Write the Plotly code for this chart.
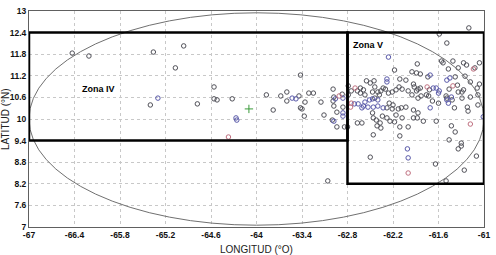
import plotly.graph_objects as go

# ---- data (longitude °O as negative, latitude °N) ----
gray_lon = [-66.43, -66.21, -65.36, -65.40, -64.96, -65.07, -64.78, -64.56, -64.56, -64.52,
            -64.32, -63.87, -63.78, -63.68, -63.60, -63.60, -63.44, -63.42, -63.42, -63.40,
            -63.36, -63.31, -63.25, -63.37, -63.15, -63.11, -62.99, -62.98, -62.87, -62.99,
            -62.98, -63.00, -62.94, -62.84, -62.79, -63.06, -61.20, -61.59, -61.49, -61.88,
            -61.56, -61.54, -61.41, -61.27, -61.23, -61.06, -62.18, -61.95, -61.89, -61.84,
            -61.74, -61.47, -61.12, -62.50, -62.44, -62.11, -62.03, -61.25, -61.06, -62.75,
            -62.67, -62.63, -62.59, -62.47, -62.38, -62.36, -62.30, -62.26, -62.16, -62.12,
            -62.08, -62.00, -61.92, -61.89, -61.87, -61.72, -61.46, -61.35, -61.34, -61.29,
            -61.18, -61.49, -61.42, -61.08, -61.60, -61.39, -61.22, -61.93, -61.87, -62.03,
            -62.16, -62.08, -62.28, -62.24, -62.42, -62.37, -62.47, -62.86, -62.94, -62.79,
            -62.63, -62.57, -62.55, -62.45, -61.93, -61.95, -62.21, -62.40, -62.33, -62.44,
            -62.25, -62.20, -62.21, -62.13, -62.09, -62.28, -62.46, -62.34, -61.93, -62.67,
            -62.61, -62.18, -62.11, -62.00, -62.80, -62.41, -62.36, -61.87, -61.83, -61.68,
            -61.29, -61.21, -61.08, -61.88, -61.80, -61.63, -61.43, -61.38, -61.46, -61.30,
            -61.30, -61.34, -61.10, -61.64, -61.26, -61.50, -62.46, -62.11, -62.50, -61.84,
            -61.76, -61.73, -61.50, -61.27, -61.09, -61.34, -61.38, -61.18]
gray_lat = [11.83, 11.75, 11.86, 10.39, 12.03, 11.42, 10.42, 10.89, 10.56, 10.53,
            10.56, 10.67, 10.25, 10.64, 10.75, 10.50, 10.64, 11.22, 10.31, 10.28,
            10.47, 10.72, 10.72, 10.08, 10.47, 10.11, 10.83, 10.61, 10.69, 10.50,
            10.36, 9.97, 9.78, 9.78, 10.92, 8.28, 12.53, 12.36, 12.11, 11.53,
            11.61, 11.56, 11.61, 11.56, 11.50, 11.56, 11.36, 11.31, 11.28, 11.25,
            11.17, 11.39, 11.42, 11.00, 10.89, 11.11, 11.08, 11.19, 10.97, 10.78,
            10.78, 10.86, 10.81, 10.75, 10.67, 10.78, 10.83, 10.72, 10.81, 10.89,
            10.83, 10.78, 10.89, 10.78, 10.83, 10.81, 10.83, 10.94, 10.75, 10.75,
            10.61, 10.58, 10.53, 10.67, 10.44, 10.31, 10.33, 10.25, 10.17, 10.33,
            10.11, 10.03, 10.03, 9.94, 9.97, 9.89, 10.17, 10.33, 10.19, 10.67,
            10.72, 10.67, 11.06, 11.06, 10.97, 10.67, 10.75, 10.75, 10.86, 10.58,
            10.44, 10.39, 10.28, 10.28, 10.31, 10.31, 10.03, 10.08, 10.03, 9.89,
            9.89, 9.92, 9.78, 9.78, 9.78, 9.81, 9.75, 10.58, 10.64, 10.50,
            10.58, 10.22, 10.39, 10.03, 9.94, 9.94, 9.81, 9.64, 9.42, 9.33,
            9.25, 9.17, 8.97, 8.75, 8.58, 8.28, 9.56, 9.53, 8.94, 10.86,
            10.67, 10.64, 10.64, 10.81, 10.86, 11.42, 11.17, 11.03]

blue_lon = [-65.30, -64.27, -64.26, -63.53, -63.48, -62.96, -62.86, -62.86, -62.86, -62.98,
            -62.26, -61.71, -62.28, -62.28, -61.49, -61.45, -61.63, -61.59, -61.01, -61.71,
            -62.59, -62.61, -62.66, -62.71, -62.53, -62.46, -62.40, -62.33, -62.40, -61.49,
            -61.47, -61.43, -62.01, -62.00, -61.67, -61.60, -62.57, -62.51, -62.47]
blue_lat = [10.58, 10.03, 9.97, 10.58, 10.56, 10.56, 10.58, 10.17, 10.08, 9.94,
            11.72, 11.22, 11.11, 11.03, 11.08, 11.14, 10.86, 10.78, 10.06, 10.31,
            10.36, 10.31, 10.42, 10.42, 10.33, 10.33, 10.36, 10.31, 10.53, 10.53,
            10.44, 10.61, 9.17, 8.92, 10.86, 10.72, 10.47, 10.53, 10.56]

red_lon = [-64.37, -62.91, -61.14, -62.70, -61.75, -61.41, -62.76, -61.18, -62.00, -62.75]
red_lat = [9.50, 10.64, 11.39, 10.86, 10.89, 10.92, 10.33, 9.86, 8.50, 10.44]

ref_lon = [-64.10]
ref_lat = [10.28]

# zones and ellipse (data units)
zona_iv = dict(lon0=-67.0, lon1=-62.8, lat0=9.4, lat1=12.4)
zona_v = dict(lon0=-62.8, lon1=-61.0, lat0=8.2, lat1=12.4)
ellipse = dict(lon0=-67.0, lon1=-61.0, lat0=7.05, lat1=12.95)

x_ticks = [-67, -66.4, -65.8, -65.2, -64.6, -64, -63.4, -62.8, -62.2, -61.6, -61]
y_ticks = [7, 7.6, 8.2, 8.8, 9.4, 10, 10.6, 11.2, 11.8, 12.4, 13]

fig = go.Figure()

def pts(lon, lat, color):
    fig.add_trace(go.Scatter(x=lon, y=lat, mode="markers",
                             marker=dict(symbol="circle-open", size=4.5, color=color,
                                         line=dict(width=1, color=color)),
                             showlegend=False, hoverinfo="skip"))

pts(gray_lon, gray_lat, "#505058")
pts(blue_lon, blue_lat, "#5858a8")
pts(red_lon, red_lat, "#c07080")
fig.add_trace(go.Scatter(x=ref_lon, y=ref_lat, mode="markers",
                         marker=dict(symbol="cross-thin-open", size=6, color="#3a9a3a",
                                     line=dict(width=1, color="#3a9a3a")),
                         showlegend=False, hoverinfo="skip"))

fig.add_shape(type="circle", x0=ellipse["lon0"], x1=ellipse["lon1"],
              y0=ellipse["lat0"], y1=ellipse["lat1"],
              line=dict(color="#707070", width=1), layer="above")
for z in (zona_iv, zona_v):
    fig.add_shape(type="rect", x0=z["lon0"], x1=z["lon1"], y0=z["lat0"], y1=z["lat1"],
                  line=dict(color="black", width=2.5), layer="above")

fig.add_annotation(x=-66.09, y=10.83, text="<b>Zona IV</b>", showarrow=False,
                   font=dict(family="Liberation Sans", size=9, color="black"))
fig.add_annotation(x=-62.53, y=12.06, text="<b>Zona V</b>", showarrow=False,
                   font=dict(family="Liberation Sans", size=9, color="black"))

fig.add_annotation(xref="paper", yref="paper", x=0.5, y=0.0, yshift=-15, yanchor="top",
                   text="LONGITUD (°O)", showarrow=False,
                   font=dict(family="Liberation Sans", size=10, color="#222"))
fig.add_annotation(xref="paper", yref="paper", x=0, xshift=-24, y=0.5, textangle=-90,
                   xanchor="center", text="LATITUD (°N)", showarrow=False,
                   font=dict(family="Liberation Sans", size=10, color="#222"))

axis_common = dict(showgrid=True, gridcolor="#c8c8c8", griddash="dot", gridwidth=1,
                   showline=True, linecolor="#606060", linewidth=1, mirror=True,
                   zeroline=False, ticks="", tickfont=dict(family="Liberation Sans",
                   size=8.5, color="#111"), automargin=False)
fig.update_xaxes(range=[-67, -61], tickvals=x_ticks,
                 ticktext=[f"<b>{v:g}</b>" for v in x_ticks], **axis_common)
fig.update_yaxes(range=[7, 13], tickvals=y_ticks,
                 ticktext=[f"<b>{v:g}</b>" for v in y_ticks], **axis_common)

fig.update_layout(width=496, height=255, margin=dict(l=29, r=12, t=11, b=28),
                  paper_bgcolor="white", plot_bgcolor="white")

fig.write_html("out.html", config={"displayModeBar": False},
               post_script="document.body.style.margin='0';document.body.style.overflow='hidden';")
